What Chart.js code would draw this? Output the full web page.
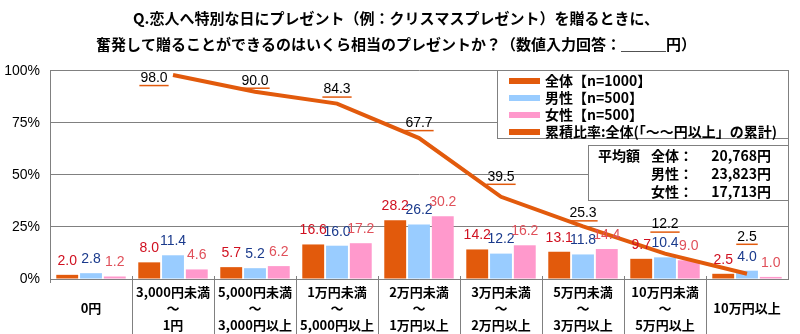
<!DOCTYPE html>
<html lang="ja">
<head>
<meta charset="utf-8">
<script src="https://cdn.jsdelivr.net/npm/chart.js@4"></script>
<style>
	html, body { margin: 0; padding: 0; background: #fff; }
	#wrap { position: relative; width: 800px; height: 334px; }
	#chart { position: absolute; left: 0; top: 0; }
	.box {
		position: absolute; box-sizing: border-box; background: #fff;
		border: 1px solid #808080;
		font: bold 14px "Noto Sans CJK JP", sans-serif; color: #000;
	}
	#legend { left: 497px; top: 70px; width: 292px; height: 69px; padding-top: 1px; }
	#legend .row { height: 17px; line-height: 17px; display: flex; align-items: center; }
	#legend .sw { width: 31px; height: 6px; margin: 0 5px 0 11px; }
	#avg { left: 588px; top: 145px; width: 201px; height: 56px; padding-top: 0px; }
	#avg .row { height: 18px; line-height: 18px; position: relative; }
	#avg .row span { position: absolute; top: 0; }
</style>
</head>
<body>
<div id="wrap">
	<canvas id="chart" width="800" height="334"></canvas>
	<div id="legend" class="box"></div>
	<div id="avg" class="box"></div>
</div>
<script>
// データ
const titleLines = [
	'Q.恋人へ特別な日にプレゼント（例：クリスマスプレゼント）を贈るときに、',
	'奮発して贈ることができるのはいくら相当のプレゼントか？（数値入力回答：＿＿＿円）'
];
const categories = [
	['', '0円', ''],
	['3,000円未満', '～', '1円'],
	['5,000円未満', '～', '3,000円以上'],
	['1万円未満', '～', '5,000円以上'],
	['2万円未満', '～', '1万円以上'],
	['3万円未満', '～', '2万円以上'],
	['5万円未満', '～', '3万円以上'],
	['10万円未満', '～', '5万円以上'],
	['', '10万円以上', '']
];
const seriesNames = ['全体【n=1000】', '男性【n=500】', '女性【n=500】', '累積比率:全体(「～～円以上」の累計)'];
const totalValues = [2.0, 8.0, 5.7, 16.6, 28.2, 14.2, 13.1, 9.7, 2.5];
const maleValues = [2.8, 11.4, 5.2, 16.0, 26.2, 12.2, 11.8, 10.4, 4.0];
const femaleValues = [1.2, 4.6, 6.2, 17.2, 30.2, 16.2, 14.4, 9.0, 1.0];
const cumulativeValues = [null, 98.0, 90.0, 84.3, 67.7, 39.5, 25.3, 12.2, 2.5];
const yTicks = [0, 25, 50, 75, 100];
const avgHeads = ['全体：', '男性：', '女性：'];
const avgValues = ['20,768円', '23,823円', '17,713円'];

// 色
const ORANGE = '#E25A0C';
const BLUE = '#99CCFF';
const PINK = '#FF99CC';
const barColors = [ORANGE, BLUE, PINK];
const barLabelColors = ['#D01020', '#1A3A8C', '#E0505A'];
// 累積ラベルの位置調整 [dx, 点からの高さ]
const lineLabelShift = [null, [-19, -3], [0, 11], [0, 14], [0, 15], [0, 20], [0, 13], [0, 29], [0, 37]];

const NUM_FONT = '"Liberation Sans", Arial, sans-serif';
const JP_FONT = '"Noto Sans CJK JP", sans-serif';

// 凡例・平均額ボックス
const legendEl = document.getElementById('legend');
seriesNames.forEach((name, i) => {
	const row = document.createElement('div');
	row.className = 'row';
	row.innerHTML = `<span class="sw" style="background:${i < 3 ? barColors[i] : ORANGE}"></span><span>${name}</span>`;
	legendEl.appendChild(row);
});
const avgEl = document.getElementById('avg');
avgHeads.forEach((h, i) => {
	const row = document.createElement('div');
	row.className = 'row';
	row.innerHTML = (i === 0 ? '<span style="left:9px">平均額</span>' : '') +
		`<span style="left:62px">${h}</span><span style="right:17px">${avgValues[i]}</span>`;
	avgEl.appendChild(row);
});

// 値ラベル・区切り線プラグイン
const decoPlugin = {
	id: 'deco',
	afterDatasetsDraw(chart) {
		const ctx = chart.ctx;
		const xs = chart.scales.x;
		const area = chart.chartArea;
		ctx.save();
		// カテゴリ区切り線
		ctx.strokeStyle = '#808080';
		ctx.lineWidth = 1;
		for (let i = 1; i < categories.length; i++) {
			const x = Math.round((xs.getPixelForValue(i - 1) + xs.getPixelForValue(i)) / 2) + 0.5;
			ctx.beginPath();
			ctx.moveTo(x, area.bottom - 3);
			ctx.lineTo(x, chart.height);
			ctx.stroke();
		}
		ctx.beginPath();
		ctx.moveTo(Math.round(area.left) + 0.5, area.bottom);
		ctx.lineTo(Math.round(area.left) + 0.5, area.bottom + 4);
		ctx.stroke();
		// 棒の値
		ctx.font = '14px ' + NUM_FONT;
		ctx.textAlign = 'center';
		ctx.textBaseline = 'middle';
		for (let d = 0; d < 3; d++) {
			const meta = chart.getDatasetMeta(d);
			ctx.fillStyle = barLabelColors[d];
			meta.data.forEach((bar, i) => {
				ctx.fillText(chart.data.datasets[d].data[i].toFixed(1), bar.x, bar.y - 14);
			});
		}
		// 累積比率の値（下線付き）
		const lineMeta = chart.getDatasetMeta(3);
		ctx.fillStyle = '#000';
		lineMeta.data.forEach((pt, i) => {
			const v = cumulativeValues[i];
			if (v === null) return;
			const s = lineLabelShift[i];
			const cx = pt.x + s[0];
			const cy = pt.y - s[1];
			const txt = v.toFixed(1);
			ctx.fillText(txt, cx, cy);
			const w = ctx.measureText(txt).width;
			ctx.strokeStyle = ORANGE;
			ctx.lineWidth = 1.5;
			ctx.beginPath();
			ctx.moveTo(cx - w / 2 - 1, cy + 7.5);
			ctx.lineTo(cx + w / 2 + 1, cy + 7.5);
			ctx.stroke();
		});
		ctx.restore();
	}
};

const barSet = (label, data, color) => ({
	type: 'bar',
	label: label,
	data: data,
	backgroundColor: color,
	categoryPercentage: 0.87,
	barPercentage: 0.92,
	order: 1
});

new Chart(document.getElementById('chart'), {
	data: {
		labels: categories,
		datasets: [
			barSet(seriesNames[0], totalValues, ORANGE),
			barSet(seriesNames[1], maleValues, BLUE),
			barSet(seriesNames[2], femaleValues, PINK),
			{
				type: 'line',
				label: seriesNames[3],
				data: cumulativeValues,
				borderColor: ORANGE,
				borderWidth: 4,
				pointRadius: 0,
				tension: 0,
				order: 0
			}
		]
	},
	options: {
		responsive: false,
		animation: false,
		layout: { padding: { left: 4, right: 12, top: 0, bottom: 1 } },
		plugins: {
			legend: { display: false },
			tooltip: { enabled: false },
			title: {
				display: true,
				text: titleLines,
				color: '#000',
				font: { family: JP_FONT, size: 15, weight: 'bold', lineHeight: 1.73 },
				padding: { top: 5, bottom: 14 }
			}
		},
		scales: {
			x: {
				afterFit: (s) => { s.height = 54; },
				grid: { display: false, drawTicks: false },
				border: { display: true, color: '#808080' },
				ticks: {
					color: '#000',
					padding: 5,
					maxRotation: 0,
					autoSkip: false,
					font: { family: JP_FONT, size: 13, weight: 'bold', lineHeight: 1.25 }
				}
			},
			y: {
				min: 0,
				max: 100,
				afterBuildTicks: (s) => { s.ticks = yTicks.map(v => ({ value: v })); },
				afterFit: (s) => { s.width = 46; },
				grid: { color: '#808080', drawTicks: false },
				border: { color: '#808080' },
				ticks: {
					color: '#000',
					padding: 10,
					font: { family: NUM_FONT, size: 14 },
					callback: (v) => v + '%'
				}
			},
			y2: {
				position: 'right',
				min: 0,
				max: 100,
				afterFit: (s) => { s.width = 0; },
				grid: { drawOnChartArea: false, drawTicks: false },
				border: { color: '#808080' },
				ticks: { display: false }
			}
		}
	},
	plugins: [decoPlugin]
});
</script>
</body>
</html>
